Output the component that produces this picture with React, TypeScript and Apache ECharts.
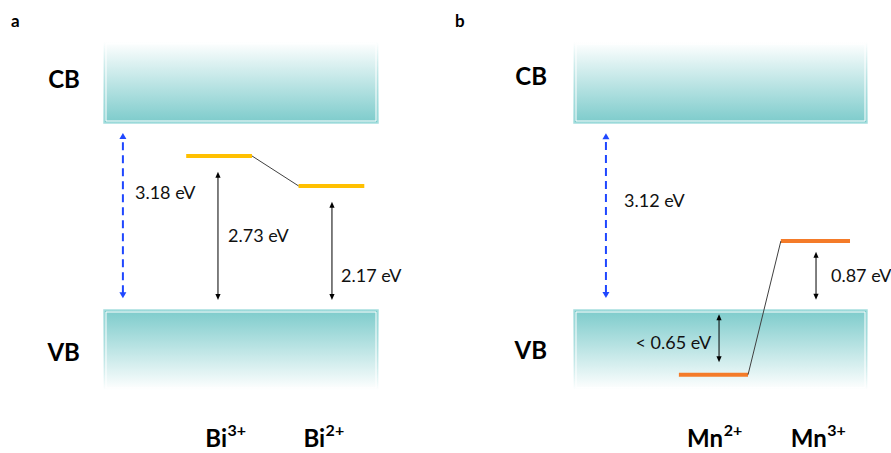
import React, { useEffect, useRef } from "react";
import * as echarts from "echarts";

// ---------- data (schematic energies; VB top = 0 eV, CB bottom = band gap) ----------
const PANEL_TAGS = ["a", "b"];
const BAND_GAPS = [3.18, 3.12];
const CB_TOP = [4.56, 4.47];
const VB_BOTTOM = [-1.36, -1.33];
const BAND_X = [0, 10];
const BAND_LABELS = ["CB", "VB"];
const BAND_LABEL_X = [-0.88, -0.92];
const BAND_LABEL_Y = [
  [3.945, -0.714],
  [3.92, -0.667],
];

// dopant levels per panel
const IONS = [
  ["Bi", "Bi"],
  ["Mn", "Mn"],
];
const CHARGES = [
  ["3+", "2+"],
  ["2+", "3+"],
];
const LEVEL_Y = [
  [2.62, 2.11],
  [-1.08, 1.15],
];
const LEVEL_X0 = [
  [3.0, 7.1],
  [3.58, 7.06],
];
const LEVEL_X1 = [
  [5.4, 9.5],
  [5.94, 9.42],
];
const ION_LABEL_X = [
  [4.49, 8.07],
  [5.09, 8.63],
];
const ION_LABEL_Y = [-2.16, -2.12];

// transitions (double arrows)
const ARROW_X = [
  [0.69, 4.16, 8.32],
  [1.09, 8.26, 4.95],
];
const ARROW_FROM = [
  [0.2, 0.17, 0.17],
  [0.2, 0.17, -0.87],
];
const ARROW_TO = [
  [3.01, 2.35, 1.84],
  [2.95, 0.97, -0.07],
];
const ARROW_DASHED = [
  [1, 0, 0],
  [1, 0, 0],
];
const ARROW_LABELS = [
  ["3.18 eV", "2.73 eV", "2.17 eV"],
  ["3.12 eV", "0.87 eV", "< 0.65 eV"],
];
const ARROW_LABEL_X = [
  [1.13, 4.53, 8.65],
  [1.71, 8.77, 4.68],
];
const ARROW_LABEL_Y = [
  [2.01, 1.275, 0.595],
  [1.835, 0.584, -0.534],
];
const ARROW_LABEL_ALIGN = [
  ["left", "left", "left"],
  ["left", "left", "right"],
];

// ---------- styles ----------
const TEAL = "#7CCBCB";
const TEAL_EDGE = "#A5DEDE";
const LEVEL_COLORS = ["#FFC000", "#F47B29"];
const BLUE = "#1F47FF";
const FONT = "Lato, 'Open Sans', sans-serif";

function panelSeries(p: number): any[] {
  const ax = { xAxisIndex: p, yAxisIndex: p, silent: true, clip: false };

  const bands = {
    type: "custom",
    ...ax,
    encode: { x: [0, 1], y: [2, 3] },
    data: [
      [BAND_X[0], BAND_X[1], BAND_GAPS[p], CB_TOP[p], 0],
      [BAND_X[0], BAND_X[1], VB_BOTTOM[p], 0, 1],
    ],
    renderItem: (params: any, api: any) => {
      const a = api.coord([api.value(0), api.value(3)]);
      const b = api.coord([api.value(1), api.value(2)]);
      const kind = api.value(4);
      const x = a[0],
        y = a[1],
        w = b[0] - a[0],
        h = b[1] - a[1];
      const fill =
        kind === 0
          ? new echarts.graphic.LinearGradient(0, 0, 0, 1, [
              { offset: 0, color: "#FFFFFF" },
              { offset: 1, color: TEAL },
            ])
          : new echarts.graphic.LinearGradient(0, 0, 0, 1, [
              { offset: 0, color: TEAL },
              { offset: 1, color: "#FFFFFF" },
            ]);
      const stroke =
        kind === 0
          ? new echarts.graphic.LinearGradient(0, 0, 0, 1, [
              { offset: 0, color: "rgba(165,222,222,0)" },
              { offset: 1, color: TEAL_EDGE },
            ])
          : new echarts.graphic.LinearGradient(0, 0, 0, 1, [
              { offset: 0, color: TEAL_EDGE },
              { offset: 1, color: "rgba(165,222,222,0)" },
            ]);
      const labelPt = api.coord([BAND_LABEL_X[p], BAND_LABEL_Y[p][kind]]);
      return {
        type: "group",
        children: [
          {
            type: "rect",
            shape: { x, y, width: w, height: h },
            style: { fill, stroke, lineWidth: 1.5 },
          },
          {
            type: "rect",
            shape: { x: x + 2, y: y + 2, width: w - 4, height: h - 4 },
            style: { fill: "none", stroke: "#FFFFFF", lineWidth: 1 },
          },
          {
            type: "text",
            style: {
              x: labelPt[0],
              y: labelPt[1],
              text: BAND_LABELS[kind],
              fill: "#000",
              font: `bold 24px ${FONT}`,
              align: "right",
              verticalAlign: "middle",
            },
          },
        ],
      };
    },
  };

  const levels = {
    type: "custom",
    ...ax,
    encode: { x: [0, 1], y: 2 },
    data: LEVEL_Y[p].map((y, i) => [LEVEL_X0[p][i], LEVEL_X1[p][i], y]),
    renderItem: (params: any, api: any) => {
      const a = api.coord([api.value(0), api.value(2)]);
      const b = api.coord([api.value(1), api.value(2)]);
      return {
        type: "line",
        shape: { x1: a[0], y1: a[1], x2: b[0], y2: b[1] },
        style: { stroke: LEVEL_COLORS[p], lineWidth: 4, lineCap: "butt" },
      };
    },
  };

  const connector = {
    type: "custom",
    ...ax,
    encode: { x: [0, 2], y: [1, 3] },
    data: [[LEVEL_X1[p][0], LEVEL_Y[p][0], LEVEL_X0[p][1], LEVEL_Y[p][1]]],
    renderItem: (params: any, api: any) => {
      const a = api.coord([api.value(0), api.value(1)]);
      const b = api.coord([api.value(2), api.value(3)]);
      return {
        type: "line",
        shape: { x1: a[0], y1: a[1], x2: b[0], y2: b[1] },
        style: { stroke: "#404040", lineWidth: 1 },
      };
    },
  };

  const arrows = {
    type: "custom",
    ...ax,
    encode: { x: 0, y: [1, 2] },
    data: ARROW_X[p].map((x, i) => [x, ARROW_FROM[p][i], ARROW_TO[p][i], ARROW_DASHED[p][i]]),
    renderItem: (params: any, api: any) => {
      const dashed = api.value(3) === 1;
      const lo = api.coord([api.value(0), api.value(1)]);
      const hi = api.coord([api.value(0), api.value(2)]);
      const color = dashed ? BLUE : "#000000";
      const hl = 6;
      const hw = dashed ? 3.5 : 2.6;
      const lp = api.coord([ARROW_LABEL_X[p][params.dataIndex], ARROW_LABEL_Y[p][params.dataIndex]]);
      return {
        type: "group",
        children: [
          {
            type: "line",
            shape: { x1: lo[0], y1: lo[1] - hl + 1, x2: hi[0], y2: hi[1] + hl - 1 },
            style: {
              stroke: color,
              lineWidth: dashed ? 2 : 1,
              lineDash: dashed ? [8, 5] : undefined,
            },
          },
          {
            type: "polygon",
            shape: {
              points: [
                [hi[0], hi[1]],
                [hi[0] - hw, hi[1] + hl],
                [hi[0] + hw, hi[1] + hl],
              ],
            },
            style: { fill: color },
          },
          {
            type: "polygon",
            shape: {
              points: [
                [lo[0], lo[1]],
                [lo[0] - hw, lo[1] - hl],
                [lo[0] + hw, lo[1] - hl],
              ],
            },
            style: { fill: color },
          },
          {
            type: "text",
            style: {
              x: lp[0],
              y: lp[1],
              text: ARROW_LABELS[p][params.dataIndex],
              fill: "#111111",
              font: `18px ${FONT}`,
              align: ARROW_LABEL_ALIGN[p][params.dataIndex],
              verticalAlign: "middle",
            },
          },
        ],
      };
    },
  };

  const ionLabels = {
    type: "custom",
    ...ax,
    encode: { x: 0, y: 1 },
    data: ION_LABEL_X[p].map((x) => [x, ION_LABEL_Y[p]]),
    renderItem: (params: any, api: any) => {
      const pt = api.coord([api.value(0), api.value(1)]);
      return {
        type: "group",
        children: [
          {
            type: "text",
            style: {
              x: pt[0],
              y: pt[1],
              text: IONS[p][params.dataIndex],
              fill: "#000",
              font: `bold 24px ${FONT}`,
              align: "right",
              verticalAlign: "middle",
            },
          },
          {
            type: "text",
            style: {
              x: pt[0] + 0.5,
              y: pt[1] - 8,
              text: CHARGES[p][params.dataIndex],
              fill: "#000",
              font: `bold 16px ${FONT}`,
              align: "left",
              verticalAlign: "middle",
            },
          },
        ],
      };
    },
  };

  return [bands, levels, connector, arrows, ionLabels];
}

export default function App() {
  const ref = useRef<HTMLDivElement>(null);

  useEffect(() => {
    if (!ref.current) return;
    const chart = echarts.init(ref.current, null, { renderer: "svg" });
    chart.setOption({
      animation: false,
      backgroundColor: "#FFFFFF",
      grid: [
        { left: 104, width: 274, top: 123, height: 187 },
        { left: 574, width: 293, top: 123, height: 187 },
      ],
      xAxis: [0, 1].map((p) => ({
        type: "value",
        gridIndex: p,
        min: BAND_X[0],
        max: BAND_X[1],
        show: false,
      })),
      yAxis: [0, 1].map((p) => ({
        type: "value",
        gridIndex: p,
        min: 0,
        max: BAND_GAPS[p],
        show: false,
      })),
      graphic: PANEL_TAGS.map((t, i) => ({
        type: "text",
        left: i === 0 ? 11 : 455,
        top: 12,
        style: { text: t, fill: "#000", font: `bold 17px ${FONT}` },
      })),
      series: [...panelSeries(0), ...panelSeries(1)],
    });
    return () => chart.dispose();
  }, []);

  return (
    <div
      ref={ref}
      style={{ position: "absolute", left: 0, top: 0, width: 891, height: 453 }}
    />
  );
}
